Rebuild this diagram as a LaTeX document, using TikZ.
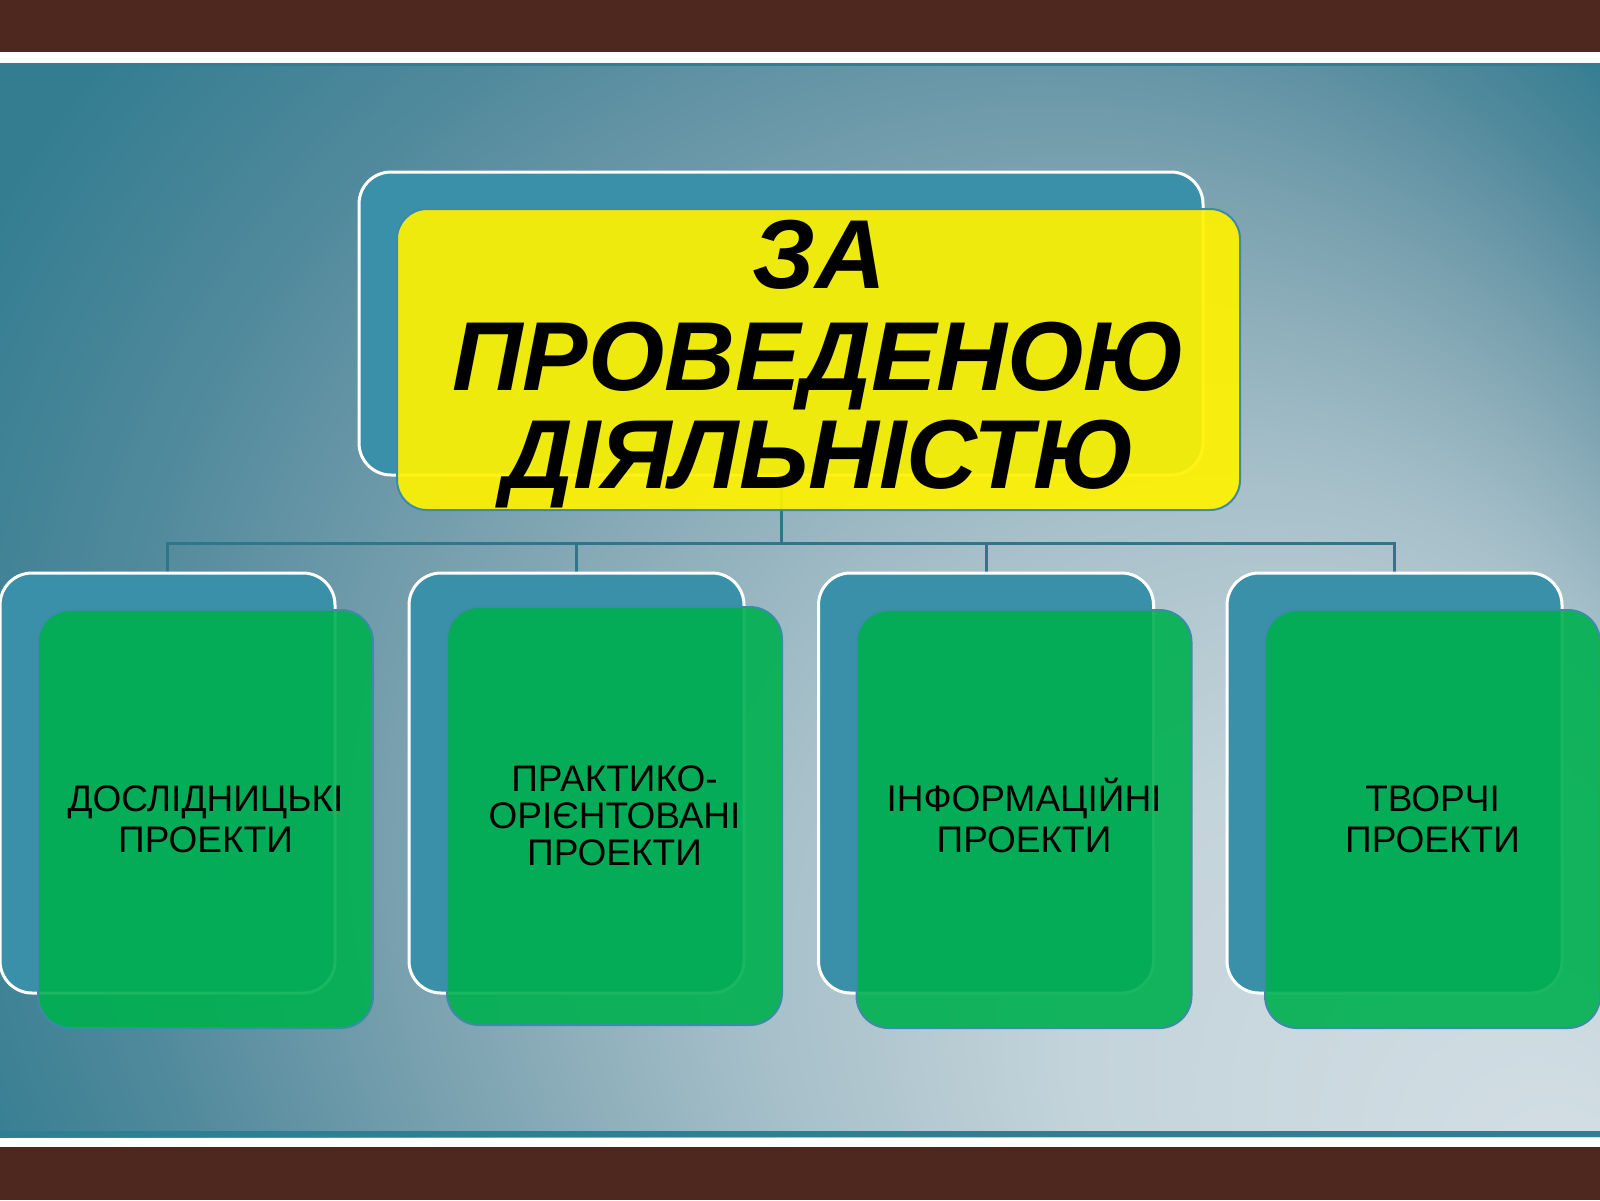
\documentclass[tikz,border=0pt]{standalone}
\usepackage{fontspec}
\setmainfont{Liberation Sans}
\definecolor{brownbar}{RGB}{78,39,31}
\definecolor{edgeteal}{RGB}{46,127,145}
\definecolor{bgA}{RGB}{212,223,229}
\definecolor{bgB}{RGB}{196,212,219}
\definecolor{bgC}{RGB}{164,190,200}
\definecolor{bgD}{RGB}{120,160,174}
\definecolor{bgE}{RGB}{80,137,156}
\definecolor{bgF}{RGB}{52,125,145}
\definecolor{backteal}{RGB}{58,144,168}
\definecolor{frontedge}{RGB}{60,140,168}
\definecolor{conncol}{RGB}{48,118,138}
\definecolor{boxgreen}{RGB}{0,176,80}
\pgfdeclareradialshading{bgrad}{\pgfpoint{38.07bp}{-25.23bp}}{color(0bp)=(bgA); color(7.5bp)=(bgB); color(12.5bp)=(bgC); color(17.5bp)=(bgD); color(21.5bp)=(bgE); color(25bp)=(bgF); color(50bp)=(bgF)}
\pgfdeclarelayer{bglayer}
\pgfsetlayers{bglayer,main}
\begin{document}
\begin{tikzpicture}[x=1pt,y=-1pt,
  backbox/.style={rectangle, rounded corners=32pt, fill=backteal, draw=white, line width=3pt, inner sep=0pt, outer sep=0pt},
  greenbox/.style={rectangle, rounded corners=32pt, fill=boxgreen, fill opacity=0.9, text opacity=1, draw=frontedge, draw opacity=1, line width=2pt, inner sep=0pt, outer sep=0pt, minimum width=335pt, minimum height=418pt, align=center, text=black, font=\fontsize{37}{41}\selectfont},
  yellowbox/.style={rectangle, rounded corners=30pt, fill=yellow, fill opacity=0.92, draw=frontedge, draw opacity=1, line width=2pt, inner sep=0pt, outer sep=0pt},
  titletext/.style={anchor=base, inner sep=0pt, text=black, font=\fontsize{98}{100}\selectfont\bfseries\itshape},
  conn/.style={draw=conncol, line width=3pt}]
\useasboundingbox (0,0) rectangle (1600,1200);
\begin{pgfonlayer}{bglayer}
\fill[brownbar] (0,0) rectangle (1600,1200);
\fill[white] (0,52) rectangle (1600,1147);
\begin{scope}
  \clip (0,63) rectangle (1600,1137);
  \fill[bgF] (0,63) rectangle (1600,1137);
  \node[inner sep=0pt, outer sep=0pt, anchor=center, scale=39.4, transform shape] (bgshade) at (100,206) {\pgfuseshading{bgrad}};
\end{scope}
\fill[edgeteal] (0,63) rectangle (1600,66);
\fill[edgeteal] (0,1131) rectangle (1600,1137);
\end{pgfonlayer}

% top boxes
\node[backbox, minimum width=844pt, minimum height=303pt] (topback) at (781,323.5) {};
\node[yellowbox, minimum width=843pt, minimum height=301pt] (topfront) at (818.5,359.5) {};
\node[titletext] (t1) at (819,288) {ЗА};
\node[titletext] (t2) at (819,390) {ПРОВЕДЕНОЮ};
\node[titletext] (t3) at (819,488) {ДІЯЛЬНІСТЮ};

% lower back boxes
\node[backbox, minimum width=335pt, minimum height=420pt] (bk1) at (167.5,783) {};
\node[backbox, minimum width=335pt, minimum height=420pt] (bk2) at (576.5,783) {};
\node[backbox, minimum width=335pt, minimum height=420pt] (bk3) at (986,783) {};
\node[backbox, minimum width=335pt, minimum height=420pt] (bk4) at (1394.5,783) {};

% green front boxes
\node[greenbox] (gr1) at (205.5,819) {ДОСЛІДНИЦЬКІ\\ПРОЕКТИ};
\node[greenbox, font=\fontsize{37}{37}\selectfont] (gr2) at (614.5,816) {ПРАКТИКО-\\ОРІЄНТОВАНІ\\ПРОЕКТИ};
\node[greenbox] (gr3) at (1024,819) {ІНФОРМАЦІ\smash{Й}НІ\\ПРОЕКТИ};
\node[greenbox] (gr4) at (1432.5,819) {ТВОРЧІ\\ПРОЕКТИ};

% connectors
\begin{pgfonlayer}{bglayer}
\coordinate (bus) at (781,543);
\draw[conn] (topback.south) -- (bus);
\draw[conn] (bus) -| (bk1.north);
\draw[conn] (bus) -| (bk2.north);
\draw[conn] (bus) -| (bk3.north);
\draw[conn] (bus) -| (bk4.north);
\end{pgfonlayer}
\end{tikzpicture}
\end{document}
